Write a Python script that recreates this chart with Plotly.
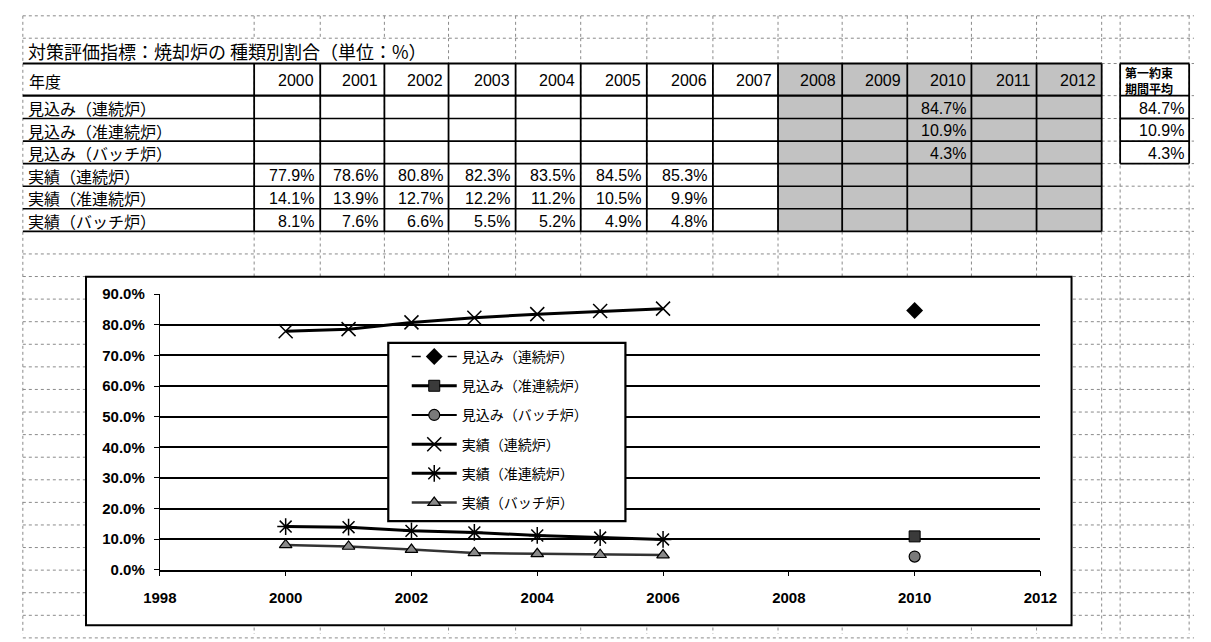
import plotly.graph_objects as go

# ---------------- data ----------------
table_years = [2000, 2001, 2002, 2003, 2004, 2005, 2006, 2007, 2008, 2009, 2010, 2011, 2012]
series_names = ["見込み（連続炉）", "見込み（准連続炉）", "見込み（バッチ炉）",
                "実績（連続炉）", "実績（准連続炉）", "実績（バッチ炉）"]
est_years = [2010]
est_cont = [84.7]
est_semi = [10.9]
est_batch = [4.3]
act_years = [2000, 2001, 2002, 2003, 2004, 2005, 2006]
act_cont = [77.9, 78.6, 80.8, 82.3, 83.5, 84.5, 85.3]
act_semi = [14.1, 13.9, 12.7, 12.2, 11.2, 10.5, 9.9]
act_batch = [8.1, 7.6, 6.6, 5.5, 5.2, 4.9, 4.8]
period_avg = [84.7, 10.9, 4.3]
x_ticks = [1998, 2000, 2002, 2004, 2006, 2008, 2010, 2012]
y_ticks = [0, 10, 20, 30, 40, 50, 60, 70, 80, 90]
title_text = "対策評価指標：焼却炉の 種類別割合（単位：%）"
header_label = "年度"
avg_header = "第一約束<br>期間平均"

# ---------------- layout constants ----------------
W, H = 1211, 642
JP = "Noto Sans CJK JP"
NUM = "Liberation Sans"
col_edges = [6, 244, 312, 378, 444, 513, 580, 648, 716, 783, 849, 916, 982, 1049, 1116]
avg_l, avg_r = 1135, 1206
row_edges = [56, 89, 112.5, 135.7, 158.8, 182, 205.2, 228.4]
sheet_rows = [7, 30] + [228.4 + 23.2 * k for k in range(1, 19)]
chart_box = (71, 275, 1085, 633)
legend_box = (382, 343, 626, 526)


def px(x):
    return x / W


def py(y):
    return 1 - y / H


shapes = []
annotations = []


def line(x0, y0, x1, y1, color="black", width=1.5, dash=None, layer="below"):
    d = dict(type="line", xref="paper", yref="paper",
             x0=px(x0), y0=py(y0), x1=px(x1), y1=py(y1),
             line=dict(color=color, width=width), layer=layer)
    if dash:
        d["line"]["dash"] = dash
    shapes.append(d)


def rect(x0, y0, x1, y1, fill, lc=None, lw=0, layer="below"):
    shapes.append(dict(type="rect", xref="paper", yref="paper",
                       x0=px(x0), y0=py(y0), x1=px(x1), y1=py(y1),
                       fillcolor=fill, line=dict(color=lc or fill, width=lw), layer=layer))


def text(x, y, s, anchor="left", size=16, family=JP, weight="normal", color="black"):
    annotations.append(dict(xref="paper", yref="paper", x=px(x), y=py(y), text=s,
                            showarrow=False, xanchor=anchor, yanchor="middle",
                            font=dict(family=family, size=size, color=color, weight=weight)))


# spreadsheet dotted grid
grid_c = "#8a8a8a"
for y in sheet_rows:
    line(6, y, W, y, color=grid_c, width=1, dash="dot")
for y in row_edges:
    line(1116, y, W, y, color=grid_c, width=1, dash="dot")
line(6, 7, 6, H, color=grid_c, width=1, dash="dot")
for x in col_edges[1:] + [avg_l, avg_r]:
    line(x, 7, x, 30, color=grid_c, width=1, dash="dot")
    if x > 440:
        line(x, 30, x, 56, color=grid_c, width=1, dash="dot")
    line(x, 56, x, H, color=grid_c, width=1, dash="dot")

# shaded forecast block
rect(col_edges[9], row_edges[0], col_edges[14], row_edges[-1], "#c2c2c2")

# table solid lines
for i, y in enumerate(row_edges):
    w = 2.2 if i in (0, 1) else 1.6
    line(col_edges[0], y, col_edges[-1], y, width=w)
for x in col_edges[1:]:
    line(x, row_edges[0], x, row_edges[-1], width=1.8)
for y in row_edges[:5]:
    line(avg_l, y, avg_r, y, width=1.8)
line(avg_l, row_edges[0], avg_l, row_edges[4], width=1.8)
line(avg_r, row_edges[0], avg_r, row_edges[4], width=1.8)

# chart frame (covers the sheet grid)
rect(*chart_box, fill="white", lc="black", lw=2)
# legend frame
rect(*legend_box, fill="white", lc="black", lw=2.2, layer="above")

# table texts
text(9, 43, title_text, size=18)
hy = (row_edges[0] + row_edges[1]) / 2 + 1
text(10, hy, header_label, size=16)
for i, yr in enumerate(table_years):
    text(col_edges[i + 2] - 4, hy, str(yr), anchor="right", family=NUM, size=16)
text(avg_l + 3, hy, avg_header, size=12, weight="bold")

row_data = [(est_years, est_cont), (est_years, est_semi), (est_years, est_batch),
            (act_years, act_cont), (act_years, act_semi), (act_years, act_batch)]
for r, (name, (yrs, vals)) in enumerate(zip(series_names, row_data)):
    cy = (row_edges[r + 1] + row_edges[r + 2]) / 2 + 1
    text(9, cy, name, size=16)
    for yr, v in zip(yrs, vals):
        ci = table_years.index(yr)
        text(col_edges[ci + 2] - 4, cy, f"{v:.1f}%", anchor="right", family=NUM, size=16)
for r, v in enumerate(period_avg):
    cy = (row_edges[r + 1] + row_edges[r + 2]) / 2 + 1
    text(avg_r - 3, cy, f"{v:.1f}%", anchor="right", family=NUM, size=16)

# ---------------- traces ----------------
fig = go.Figure()
styles = [
    dict(x=est_years, y=est_cont, line=dict(color="black", width=1.5, dash="dash"),
         marker=dict(symbol="diamond", size=13, color="black")),
    dict(x=est_years, y=est_semi, line=dict(color="black", width=3),
         marker=dict(symbol="square", size=11, color="#3a3a3a", line=dict(color="black", width=1))),
    dict(x=est_years, y=est_batch, line=dict(color="black", width=2),
         marker=dict(symbol="circle", size=11, color="#7a7a7a", line=dict(color="black", width=1.2))),
    dict(x=act_years, y=act_cont, line=dict(color="black", width=3),
         marker=dict(symbol="x-thin-open", size=14, color="black", line=dict(color="black", width=1.5))),
    dict(x=act_years, y=act_semi, line=dict(color="black", width=3),
         marker=dict(symbol="asterisk-open", size=14, color="black", line=dict(color="black", width=1.5))),
    dict(x=act_years, y=act_batch, line=dict(color="#333333", width=2.5),
         marker=dict(symbol="triangle-up", size=11, color="#8a8a8a", line=dict(color="black", width=1.2))),
]
for i, (name, st) in enumerate(zip(series_names, styles)):
    fig.add_trace(go.Scatter(name=name, mode="lines+markers", legendgroup=f"g{i}",
                             cliponaxis=False, **st))

fig.update_layout(
    width=W, height=H, autosize=False,
    margin=dict(l=0, r=0, t=0, b=0),
    paper_bgcolor="white", plot_bgcolor="rgba(0,0,0,0)",
    shapes=shapes, annotations=annotations,
    showlegend=True,
    legend=dict(x=px(401), y=py(341), xanchor="left", yanchor="top",
                bgcolor="rgba(0,0,0,0)", borderwidth=0,
                font=dict(family=JP, size=14, color="black"),
                tracegroupgap=8, itemwidth=45),
    xaxis=dict(domain=[px(147), px(1053)], range=[1998, 2012], tickvals=x_ticks,
               showgrid=False, zeroline=False, showline=True, linecolor="black", linewidth=1.5,
               ticks="outside", ticklen=5, tickcolor="black", tickwidth=1,
               ticklabelstandoff=9,
               tickfont=dict(family=NUM, size=15, color="black", weight="bold")),
    yaxis=dict(domain=[py(576), py(293)], range=[0, 90], tickvals=y_ticks,
               ticktext=[f"{v:.1f}%" for v in y_ticks],
               showgrid=True, gridcolor="black", gridwidth=1.5, zeroline=False,
               showline=True, linecolor="black", linewidth=1.2,
               ticks="outside", ticklen=5, tickcolor="black", ticklabelstandoff=6,
               tickfont=dict(family=NUM, size=15, color="black", weight="bold")),
)

fig.write_html("out.html", config={"displayModeBar": False},
               post_script="document.body.style.margin='0';document.body.style.overflow='hidden';")
